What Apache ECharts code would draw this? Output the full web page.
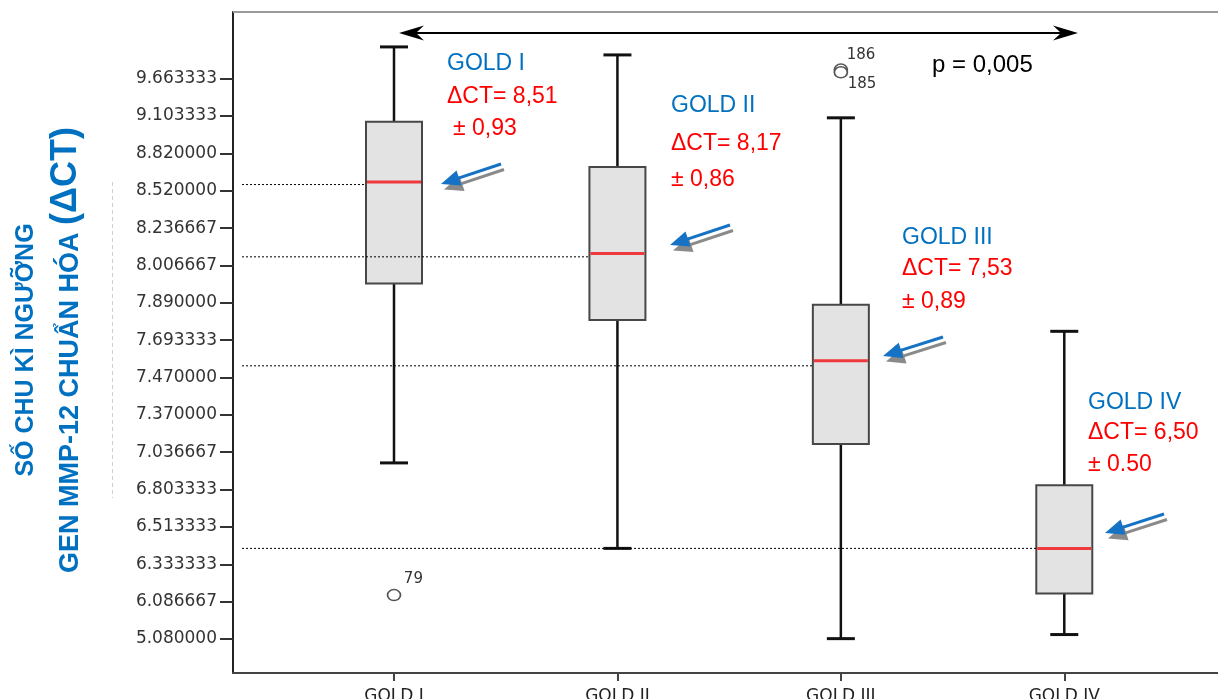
<!DOCTYPE html>
<html>
<head>
<meta charset="utf-8">
<script src="https://cdn.jsdelivr.net/npm/echarts@6/dist/echarts.min.js"></script>
<style>
  html, body { margin: 0; padding: 0; background: #fff; }
  #chart { width: 1218px; height: 699px; }
</style>
</head>
<body>
<div id="chart"></div>
<script>
// GOLD stages on the x axis
const categories = ['GOLD I', 'GOLD II', 'GOLD III', 'GOLD IV'];

// Tick labels of the ordinal ΔCT axis (equally spaced on screen)
const yTickLabels = ['5.080000', '6.086667', '6.333333', '6.513333', '6.803333', '7.036667',
  '7.370000', '7.470000', '7.693333', '7.890000', '8.006667', '8.236667', '8.520000',
  '8.820000', '9.103333', '9.663333'];

// Box-plot statistics of normalised MMP-12 ΔCT per stage
const whiskerLow  = [6.97, 6.41, 5.09, 5.20];
const quartile1   = [7.95, 7.80, 7.11, 6.14];
const medians     = [8.59, 8.08, 7.57, 6.41];
const quartile3   = [9.06, 8.71, 7.88, 6.83];
const whiskerHigh = [10.14, 10.02, 9.09, 7.74];

// Dotted reference levels drawn from the axis to each box
const guideLevels = [8.57, 8.06, 7.54, 6.41];

// Outlying cases: stage number, value, case id
const outlierStage  = [1, 3, 3];
const outlierValues = [6.13, 9.80, 9.76];
const outlierIds    = ['79', '186', '185'];

// Mean ± SD printed next to each box
const meanText = ['8,51', '8,17', '7,53', '6,50'];
const sdText   = ['0,93', '0,86', '0,89', '0.50'];
const pText    = 'p = 0,005';

// ---- ordinal axis helper: ΔCT value -> position between equally spaced ticks
const tickVals = yTickLabels.map(Number);
function toPos(v) {
  const n = tickVals.length;
  if (v <= tickVals[0]) return (v - tickVals[0]) / (tickVals[1] - tickVals[0]);
  if (v >= tickVals[n - 1]) return n - 1 + (v - tickVals[n - 1]) / (tickVals[n - 1] - tickVals[n - 2]);
  for (let i = 0; i < n - 1; i++) {
    if (v <= tickVals[i + 1]) return i + (v - tickVals[i]) / (tickVals[i + 1] - tickVals[i]);
  }
}

const boxData = categories.map((c, i) => [i + 1,
  toPos(whiskerLow[i]), toPos(quartile1[i]), toPos(medians[i]),
  toPos(quartile3[i]), toPos(whiskerHigh[i])]);
const guideData = categories.map((c, i) => [i + 1, toPos(guideLevels[i])]);
const labelOffsets = [[2.5, -16], [-1.5, -14.5], [-0.5, 11.5]];
const outlierData = outlierValues.map((v, i) => ({
  value: [outlierStage[i], toPos(v), outlierIds[i]],
  label: { offset: labelOffsets[i] }
}));

const tickIdx = yTickLabels.map((t, i) => i);
const catIdx = categories.map((c, i) => i + 1);

const BLUE = '#0070C0';
const RED = '#FF0000';
const HALF_BOX = 28;
const GRID_LEFT = 233, GRID_TOP = 12;

const chart = echarts.init(document.getElementById('chart'), null, { renderer: 'canvas' });

// blue pointer arrows with grey drop shadow
function arrow(tx, ty, hx, hy, color, z) {
  const dx = hx - tx, dy = hy - ty, len = Math.hypot(dx, dy);
  const ux = dx / len, uy = dy / len, px = -uy, py = ux;
  const headLen = 19, headW = 8;
  const bx = hx - ux * headLen, by = hy - uy * headLen;
  return [
    { type: 'line', z, shape: { x1: tx, y1: ty, x2: bx + ux * 3, y2: by + uy * 3 },
      style: { stroke: color, lineWidth: 3 } },
    { type: 'polygon', z, shape: { points: [[hx, hy], [bx + px * headW, by + py * headW], [bx - px * headW, by - py * headW]] },
      style: { fill: color } }
  ];
}
function pointer(tx, ty, hx, hy) {
  return [].concat(
    arrow(tx + 3, ty + 5.5, hx + 3, hy + 5.5, '#8a8a8a', 20),
    arrow(tx, ty, hx, hy, '#1572C4', 21)
  );
}

const pointers = [
  [501, 164, 441, 184],
  [730, 225, 670, 245],
  [943, 337, 883, 356],
  [1164, 514, 1105, 533]
];
const notePos = [
  [447, 64, 97, 453, 129],
  [671, 106, 144, 671, 180],
  [902, 238, 269, 902, 302],
  [1088, 403, 433, 1088, 465]
];

const noteFont = '23px "Liberation Sans", Arial, sans-serif';
const graphics = [];
categories.forEach((c, i) => {
  const p = notePos[i];
  graphics.push({ type: 'text', z: 30, x: p[0], y: p[1],
    style: { text: c, font: noteFont, fill: BLUE, align: 'left', verticalAlign: 'middle', textAlign: 'left', textVerticalAlign: 'middle' } });
  graphics.push({ type: 'text', z: 30, x: p[0], y: p[2],
    style: { text: 'ΔCT= ' + meanText[i], font: noteFont, fill: RED, align: 'left', verticalAlign: 'middle', textAlign: 'left', textVerticalAlign: 'middle' } });
  graphics.push({ type: 'text', z: 30, x: p[3], y: p[4],
    style: { text: '± ' + sdText[i], font: noteFont, fill: RED, align: 'left', verticalAlign: 'middle', textAlign: 'left', textVerticalAlign: 'middle' } });
  graphics.push(...pointer(...pointers[i]));
});
// the last SD line is cut at its lower edge
graphics.push({ type: 'rect', z: 31, shape: { x: 1080, y: 471.5, width: 110, height: 9 }, style: { fill: '#fff' } });

// top frame edge of the plot area
graphics.push({ type: 'line', z: 6, shape: { x1: GRID_LEFT, y1: GRID_TOP, x2: 1218, y2: GRID_TOP },
  style: { stroke: '#9a9a9a', lineWidth: 2 } });

// double-headed bracket arrow for the trend test
graphics.push(
  { type: 'line', z: 25, shape: { x1: 410, y1: 33, x2: 1068, y2: 33 }, style: { stroke: '#000', lineWidth: 2 } },
  { type: 'polygon', z: 25, shape: { points: [[399, 33], [424, 25.5], [416, 33], [424, 40.5]] }, style: { fill: '#000' } },
  { type: 'polygon', z: 25, shape: { points: [[1078, 33], [1053, 25.5], [1061, 33], [1053, 40.5]] }, style: { fill: '#000' } },
  { type: 'text', z: 25, x: 932, y: 65,
    style: { text: pText, font: '24px "Liberation Sans", Arial, sans-serif', fill: '#000', align: 'left', verticalAlign: 'middle', textAlign: 'left', textVerticalAlign: 'middle' } }
);

// y-axis title (two rotated lines)
graphics.push(
  { type: 'text', z: 25, x: 26, y: 350, rotation: Math.PI / 2,
    style: { text: 'SỐ CHU KÌ NGƯỠNG', font: 'bold 25px "Liberation Sans", Arial, sans-serif', fill: BLUE,
      align: 'center', verticalAlign: 'middle', textAlign: 'center', textVerticalAlign: 'middle' } },
  { type: 'text', z: 25, x: 66, y: 350, rotation: Math.PI / 2,
    style: { text: '{a|GEN MMP-12 CHUẨN HÓA }{b|(ΔCT)}', align: 'center', verticalAlign: 'middle', textAlign: 'center', textVerticalAlign: 'middle',
      rich: {
        a: { fontSize: 27, fontWeight: 'bold', fontFamily: '"Liberation Sans", Arial, sans-serif', fill: BLUE, color: BLUE, verticalAlign: 'bottom', lineHeight: 36 },
        b: { fontSize: 36, fontWeight: 'bold', fontFamily: '"Liberation Sans", Arial, sans-serif', fill: BLUE, color: BLUE, verticalAlign: 'bottom', lineHeight: 36 }
      } } },
  { type: 'line', z: 5, shape: { x1: 112.5, y1: 182, x2: 112.5, y2: 498 },
    style: { stroke: '#cfcfcf', lineWidth: 1, lineDash: [4, 3] } }
);

const option = {
  animation: false,
  backgroundColor: '#fff',
  grid: {
    left: GRID_LEFT, right: 0, top: GRID_TOP, bottom: 26,
    outerBoundsMode: 'none', containLabel: false, show: false
  },
  xAxis: {
    type: 'value', min: 0.2794, max: 4.688,
    axisLine: { show: true, onZero: false, lineStyle: { color: '#444', width: 2 } },
    axisTick: { show: true, customValues: catIdx, length: 8, lineStyle: { color: '#444', width: 2 } },
    axisLabel: {
      customValues: catIdx, margin: 15,
      formatter: v => categories[Math.round(v) - 1] || '',
      fontFamily: 'DejaVu Sans', fontSize: 17, color: '#222'
    },
    splitLine: { show: false }
  },
  yAxis: {
    type: 'value', min: -0.91, max: 16.786,
    axisLine: { show: true, onZero: false, lineStyle: { color: '#222', width: 2 } },
    axisTick: { show: true, customValues: tickIdx, length: 13, lineStyle: { color: '#333', width: 2 } },
    axisLabel: {
      customValues: tickIdx, margin: 16,
      formatter: v => yTickLabels[Math.round(v)] || '',
      fontFamily: 'DejaVu Sans', fontSize: 17, color: '#333'
    },
    splitLine: { show: false }
  },
  series: [
    {
      type: 'custom',
      name: 'box',
      z: 2,
      data: boxData,
      encode: { x: 0, y: [1, 2, 3, 4, 5] },
      renderItem(params, api) {
        const x = api.value(0);
        const low = api.coord([x, api.value(1)]);
        const q1 = api.coord([x, api.value(2)]);
        const med = api.coord([x, api.value(3)]);
        const q3 = api.coord([x, api.value(4)]);
        const high = api.coord([x, api.value(5)]);
        const cx = med[0], cap = HALF_BOX / 2;
        const ink = { stroke: '#111', lineWidth: 2.5 };
        return {
          type: 'group',
          children: [
            { type: 'line', shape: { x1: cx, y1: high[1], x2: cx, y2: q3[1] }, style: ink },
            { type: 'line', shape: { x1: cx, y1: q1[1], x2: cx, y2: low[1] }, style: ink },
            { type: 'line', shape: { x1: cx - cap, y1: high[1], x2: cx + cap, y2: high[1] }, style: { stroke: '#111', lineWidth: 3 } },
            { type: 'line', shape: { x1: cx - cap, y1: low[1], x2: cx + cap, y2: low[1] }, style: { stroke: '#111', lineWidth: 3 } },
            { type: 'rect', shape: { x: cx - HALF_BOX, y: q3[1], width: HALF_BOX * 2, height: q1[1] - q3[1] },
              style: { fill: '#e3e3e3', stroke: '#474747', lineWidth: 2 } },
            { type: 'line', shape: { x1: cx - HALF_BOX + 1, y1: med[1], x2: cx + HALF_BOX - 1, y2: med[1] },
              style: { stroke: '#F0393C', lineWidth: 3 } }
          ]
        };
      }
    },
    {
      type: 'custom',
      name: 'guide',
      z: 4,
      data: guideData,
      encode: { x: 0, y: 1 },
      renderItem(params, api) {
        const p = api.coord([api.value(0), api.value(1)]);
        const x0 = params.coordSys.x + 9;
        return {
          type: 'line',
          shape: { x1: x0, y1: p[1], x2: p[0] - HALF_BOX, y2: p[1] },
          style: { stroke: '#000', lineWidth: 1, lineDash: [2, 2] }
        };
      }
    },
    {
      type: 'scatter',
      name: 'outliers',
      z: 5,
      data: outlierData,
      symbol: 'circle',
      symbolSize: [13, 11],
      itemStyle: { color: '#fff', borderColor: '#555', borderWidth: 1.6, opacity: 1 },
      label: {
        show: true, position: 'right', distance: 0,
        formatter: p => p.value[2],
        fontFamily: 'DejaVu Sans', fontSize: 15, color: '#333',
        align: 'left', verticalAlign: 'middle'
      },
      emphasis: { disabled: true }
    }
  ],
  graphic: graphics
};

chart.setOption(option);
</script>
</body>
</html>
